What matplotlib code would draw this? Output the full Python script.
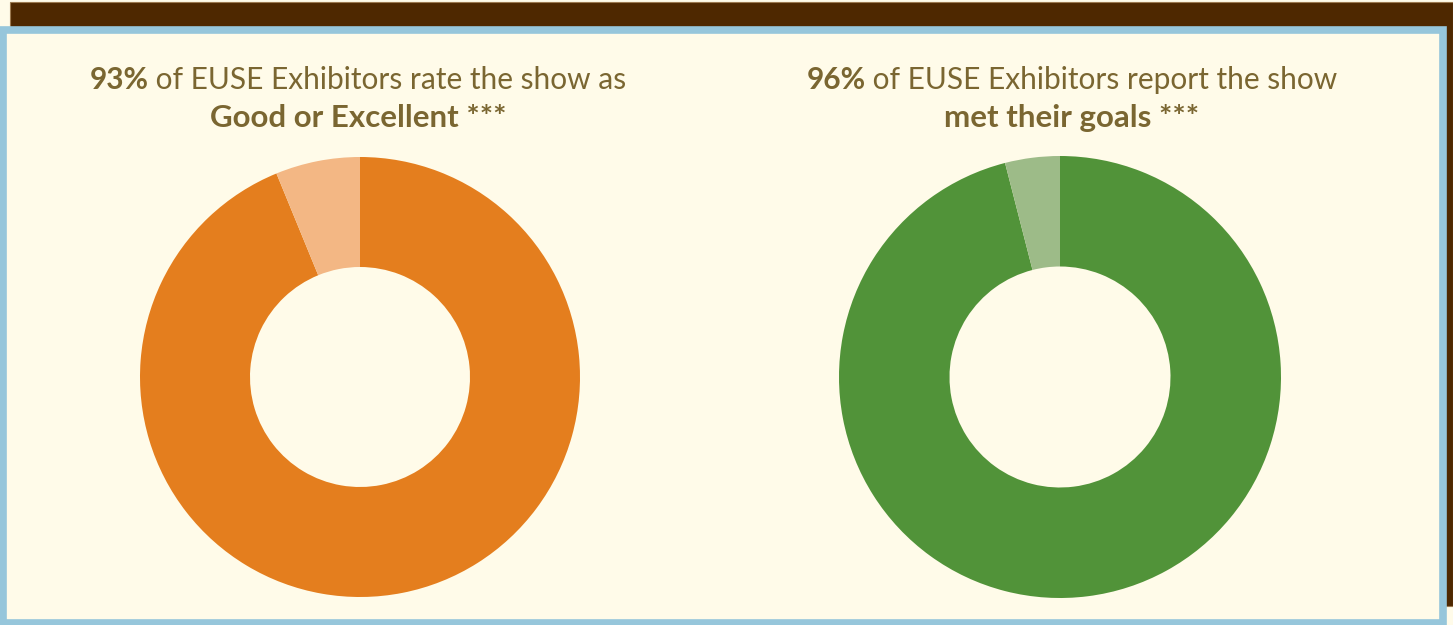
import matplotlib.pyplot as plt
from matplotlib.patches import Rectangle

# data
rating_labels = ['Good or Excellent', 'Other']
rating_values = [93.8, 6.2]
goals_labels = ['Met goals', 'Other']
goals_values = [96, 4]

cream = '#FFFBE9'
brown = '#4E2800'
blue = '#96C6DB'
text_col = '#7A6631'
orange = ['#E47E1E', '#F3B784']
green = ['#519339', '#9DBB88']

W, H = 1453, 625
fig = plt.figure(figsize=(W / 100, H / 100), dpi=100, facecolor=cream)
plt.rcParams['font.family'] = ['Lato', 'DejaVu Sans']

bg = fig.add_axes([0, 0, 1, 1])
bg.set_xlim(0, W)
bg.set_ylim(H, 0)
bg.axis('off')
bg.add_patch(Rectangle((10, 2), W - 10, 604, facecolor=brown, edgecolor='#9C7A50', lw=0.8))
bg.add_patch(Rectangle((3, 29.5), 1440, 593, facecolor=cream, edgecolor=blue, lw=5.5))


def title_line(x, y, parts, size=21.5):
    # parts: list of (text, weight); drawn side by side, centered on x
    r = fig.canvas.get_renderer()
    arts = []
    for txt, wt in parts:
        t = bg.text(0, y, txt, fontsize=size, fontweight=wt, color=text_col,
                    va='center', ha='left')
        arts.append(t)
    widths = [a.get_window_extent(r).width for a in arts]
    total = sum(widths)
    cur = x - total / 2
    for a, w in zip(arts, widths):
        a.set_x(cur)
        cur += w


title_line(358, 80, [('93%', 'bold'), (' of EUSE Exhibitors rate the show as', 'normal')])
title_line(358, 118, [('Good or Excellent ***', 'bold')], size=22.5)
title_line(1072, 80, [('96%', 'bold'), (' of EUSE Exhibitors report the show', 'normal')])
title_line(1072, 118, [('met their goals ***', 'bold')], size=22.5)


def donut(cx, cy, r, values, colors):
    ax = fig.add_axes([(cx - r) / W, 1 - (cy + r) / H, 2 * r / W, 2 * r / H])
    ax.pie(values, colors=colors, startangle=90, counterclock=False,
           radius=1, wedgeprops=dict(width=0.5, linewidth=0))
    ax.set_xlim(-1, 1)
    ax.set_ylim(-1, 1)
    ax.set_aspect('equal')
    ax.axis('off')


donut(360, 377, 220, rating_values, orange)
donut(1060, 377, 221, goals_values, green)

fig.savefig('out.png', dpi=100, facecolor=cream)
